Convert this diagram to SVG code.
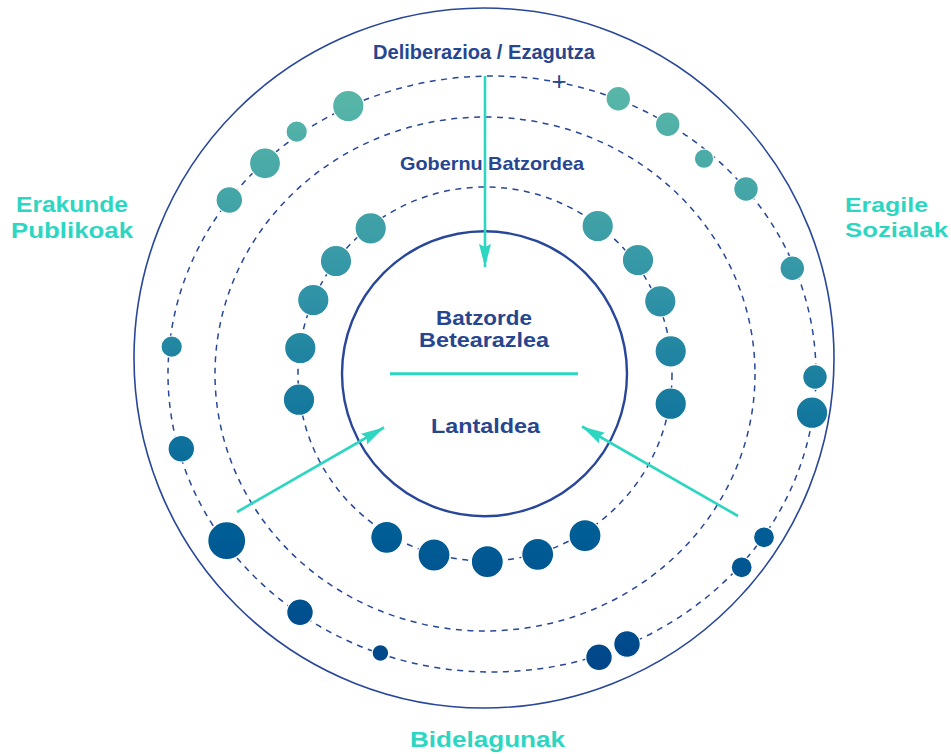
<svg xmlns="http://www.w3.org/2000/svg" width="951" height="754" viewBox="0 0 951 754">
<defs>
<linearGradient id="dotGrad" gradientUnits="userSpaceOnUse" x1="0" y1="92" x2="0" y2="665">
<stop offset="0" stop-color="#58b6a8"/>
<stop offset="0.2" stop-color="#42a3a7"/>
<stop offset="0.36" stop-color="#2f92a6"/>
<stop offset="0.5" stop-color="#1b7fa0"/>
<stop offset="0.75" stop-color="#005f96"/>
<stop offset="1" stop-color="#00478a"/>
</linearGradient>
<marker id="arrow" markerUnits="userSpaceOnUse" markerWidth="26" markerHeight="14" refX="23" refY="7" orient="auto">
<path d="M0,1 L23,7 L0,13 L3,7 z" fill="#2dd6c1"/>
</marker>
<style>
.solid{fill:none;stroke:#28479a;stroke-width:1.6}
.inner{fill:#fff;stroke:#28479a;stroke-width:2.4}
.dash{fill:none;stroke:#28479a;stroke-width:1.5;stroke-dasharray:6 5.5}
.dot{fill:url(#dotGrad);stroke:#fff;stroke-width:1.2}
.conn{fill:none;stroke:#2dd6c1;stroke-width:2.6}
.t{font-family:"Liberation Sans",Arial,sans-serif;font-weight:700;fill:#27468f;text-anchor:middle}
.lbl{font-family:"Liberation Sans",Arial,sans-serif;font-weight:700;fill:#2dd6c1}
</style>
</defs>
<rect width="951" height="754" fill="#fff"/>

<g id="outer-circle">
<circle class="solid" cx="484" cy="358" r="350"/>
</g>

<g id="ring-deliberazioa">
<ellipse class="dash" cx="492" cy="374" rx="324" ry="298"/>
<text class="t" x="484" y="59" font-size="19.5" textLength="222" lengthAdjust="spacingAndGlyphs">Deliberazioa / Ezagutza</text>
<text x="559" y="90" font-family="Liberation Sans, sans-serif" font-size="26" fill="#27468f" text-anchor="middle">+</text>
</g>

<g id="ring-gobernu">
<ellipse class="dash" cx="485" cy="374" rx="270" ry="257"/>
<text class="t" x="492" y="170" font-size="18.5" textLength="184" lengthAdjust="spacingAndGlyphs">Gobernu Batzordea</text>
</g>

<g id="ring-inner-dashed">
<circle class="dash" cx="485" cy="374" r="187"/>
</g>

<g id="dots-outer">
<circle class="dot" cx="348.3" cy="106" r="15.7"/>
<circle class="dot" cx="296.7" cy="131.7" r="10.7"/>
<circle class="dot" cx="265" cy="163.3" r="15.5"/>
<circle class="dot" cx="229.3" cy="200" r="13.3"/>
<circle class="dot" cx="171.7" cy="346.7" r="10.7"/>
<circle class="dot" cx="181.3" cy="448.7" r="13.3"/>
<circle class="dot" cx="226.7" cy="540.7" r="19"/>
<circle class="dot" cx="300" cy="612.3" r="13.3"/>
<circle class="dot" cx="380.4" cy="653" r="8.3"/>
<circle class="dot" cx="599" cy="657.3" r="13.3"/>
<circle class="dot" cx="627" cy="644" r="13.3"/>
<circle class="dot" cx="741.7" cy="567.3" r="10.5"/>
<circle class="dot" cx="764" cy="537.3" r="10.5"/>
<circle class="dot" cx="812" cy="412.7" r="15.7"/>
<circle class="dot" cx="815" cy="377" r="12.3"/>
<circle class="dot" cx="792.3" cy="268.3" r="12.3"/>
<circle class="dot" cx="746" cy="189" r="12.3"/>
<circle class="dot" cx="704" cy="158.7" r="9.7"/>
<circle class="dot" cx="667.7" cy="124.3" r="12.3"/>
<circle class="dot" cx="618.3" cy="98.7" r="12.3"/>
</g>

<g id="dots-inner">
<circle class="dot" cx="370.7" cy="228.3" r="15.7"/>
<circle class="dot" cx="336" cy="261" r="15.7"/>
<circle class="dot" cx="313.3" cy="300" r="15.7"/>
<circle class="dot" cx="300.3" cy="348" r="15.7"/>
<circle class="dot" cx="299" cy="399.7" r="15.7"/>
<circle class="dot" cx="386.7" cy="537.3" r="16"/>
<circle class="dot" cx="434" cy="555" r="16"/>
<circle class="dot" cx="487.3" cy="561.7" r="16"/>
<circle class="dot" cx="537.7" cy="554.3" r="16"/>
<circle class="dot" cx="585" cy="535.7" r="16"/>
<circle class="dot" cx="597.7" cy="226" r="15.7"/>
<circle class="dot" cx="638" cy="260" r="15.7"/>
<circle class="dot" cx="660.3" cy="301.3" r="15.7"/>
<circle class="dot" cx="670.7" cy="351.3" r="15.7"/>
<circle class="dot" cx="670.7" cy="403.7" r="15.7"/>
</g>

<g id="center-node">
<circle class="inner" cx="484.5" cy="373.7" r="142.5"/>
<text class="t" font-size="19.5"><tspan x="484" y="324.5" textLength="96" lengthAdjust="spacingAndGlyphs">Batzorde</tspan><tspan x="484" y="346.5" textLength="130" lengthAdjust="spacingAndGlyphs">Betearazlea</tspan></text>
<line x1="390" y1="373.7" x2="578" y2="373.7" stroke="#2dd6c1" stroke-width="3"/>
<text class="t" x="485.5" y="432.7" font-size="20" textLength="109" lengthAdjust="spacingAndGlyphs">Lantaldea</text>
</g>

<g id="label-erakunde">
<text class="lbl" text-anchor="middle" font-size="22"><tspan x="72" y="212" textLength="112" lengthAdjust="spacingAndGlyphs">Erakunde</tspan><tspan x="72" y="238" textLength="122" lengthAdjust="spacingAndGlyphs">Publikoak</tspan></text>
</g>

<g id="label-eragile">
<text class="lbl" font-size="21"><tspan x="845" y="212" textLength="83" lengthAdjust="spacingAndGlyphs">Eragile</tspan><tspan x="845" y="237" textLength="103" lengthAdjust="spacingAndGlyphs">Sozialak</tspan></text>
</g>

<g id="label-bidelagunak">
<text class="lbl" text-anchor="middle" x="487.5" y="747" font-size="22" textLength="155" lengthAdjust="spacingAndGlyphs">Bidelagunak</text>
</g>

<g id="connectors">
<line class="conn" x1="485" y1="76" x2="485" y2="267" marker-end="url(#arrow)"/>
<line class="conn" x1="237" y1="512" x2="384" y2="427.5" marker-end="url(#arrow)"/>
<line class="conn" x1="738" y1="516" x2="582" y2="426.5" marker-end="url(#arrow)"/>
</g>
</svg>
